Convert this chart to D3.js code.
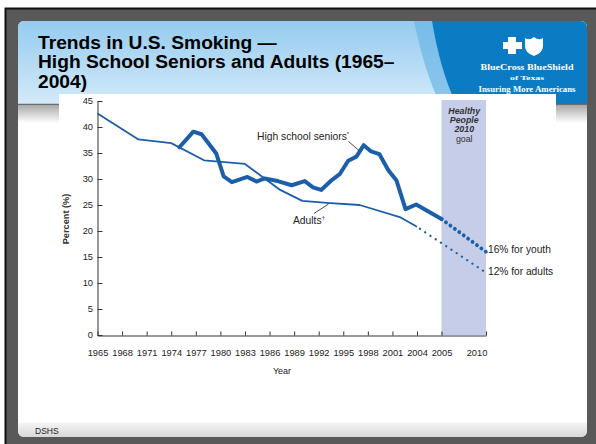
<!DOCTYPE html>
<html><head><meta charset="utf-8">
<script src="https://cdn.jsdelivr.net/npm/d3@7"></script>
<style>html,body{margin:0;padding:0;background:#fff;} svg{display:block;font-family:"Liberation Sans",Arial,sans-serif;}</style>
</head><body><svg id="c" width="596" height="444"></svg>
<script>
// ---- data ----
const titleLines = ["Trends in U.S. Smoking \u2014", "High School Seniors and Adults (1965\u2013", "2004)"];
const xTickYears = [1965,1968,1971,1974,1977,1980,1983,1986,1989,1992,1995,1998,2001,2004,2005,2010];
const yTickValues = [0,5,10,15,20,25,30,35,40,45];
const adultYears  = [1965, 1970, 1974, 1978, 1983, 1987.3, 1990, 1993, 1997, 2002, 2004];
const adultValues = [42.6, 37.6, 36.9, 33.6, 32.9, 27.9, 25.8, 25.4, 25.0, 22.6, 20.8];
const seniorYears  = [1975, 1976.7, 1977.7, 1979.5, 1980.4, 1981.4, 1983.3, 1984.4, 1985.4, 1987, 1988.7, 1990.3, 1991.3, 1992.3, 1993.6, 1994.6, 1995.6, 1996.6, 1997.5, 1998.4, 1999.4, 2000.5, 2001.5, 2002.6, 2003.9, 2005];
const seniorValues = [36.1, 39.1, 38.6, 34.9, 30.5, 29.4, 30.4, 29.5, 30.1, 29.6, 28.8, 29.6, 28.4, 27.9, 29.8, 31.0, 33.5, 34.3, 36.5, 35.3, 34.8, 31.7, 29.7, 24.2, 25.1, 22.3];
const youthGoalYears = [2005, 2010];
const youthGoalValues = [22.3, 16];
const adultGoalYears = [2004, 2010];
const adultGoalValues = [20.8, 12];
const goalLabels = ["16% for youth", "12% for adults"];
const bandLabels = ["Healthy", "People", "2010", "goal"];
const logoLines = ["BlueCross BlueShield", "of Texas", "Insuring More Americans"];

const svg = d3.select("#c");
const defs = svg.append("defs");
const blue = "#1b5fab";

// frame
svg.append("rect").attr("x",0).attr("y",0).attr("width",596).attr("height",444).attr("fill","#fff");
svg.append("rect").attr("x",5).attr("y",8).attr("width",591).attr("height",436).attr("fill","#595959");
svg.append("path").attr("d","M5.5,444 L5.5,8.5 L596,8.5").attr("fill","none").attr("stroke","#111").attr("stroke-width",2);

defs.append("clipPath").attr("id","slide").append("rect")
  .attr("x",18).attr("y",21).attr("width",569).attr("height",416).attr("rx",6);
const hg = defs.append("linearGradient").attr("id","hdr").attr("x1",0).attr("y1",0).attr("x2",0).attr("y2",1);
hg.append("stop").attr("offset","0%").attr("stop-color","#95cbef");
hg.append("stop").attr("offset","100%").attr("stop-color","#d3eafa");
const sg = defs.append("linearGradient").attr("id","shade").attr("x1",0).attr("y1",0).attr("x2",0).attr("y2",1);
sg.append("stop").attr("offset","0%").attr("stop-color","#a9a9a9");
sg.append("stop").attr("offset","100%").attr("stop-color","#ffffff");
const fg = defs.append("linearGradient").attr("id","foot").attr("x1",0).attr("y1",0).attr("x2",0).attr("y2",1);
fg.append("stop").attr("offset","0%").attr("stop-color","#f6f6f6");
fg.append("stop").attr("offset","100%").attr("stop-color","#d6d6d6");

const slide = svg.append("g").attr("clip-path","url(#slide)");
slide.append("rect").attr("x",18).attr("y",21).attr("width",569).attr("height",416).attr("fill","#fff");
slide.append("rect").attr("x",18).attr("y",21).attr("width",569).attr("height",83).attr("fill","url(#hdr)");
slide.append("path").attr("d","M414,21 Q424,70 440,104 L456,104 Q440,70 432,21 Z").attr("fill","#6cb6e5").attr("opacity",0.7);
slide.append("path").attr("d","M432,21 Q440,70 456,104 L590,104 L590,21 Z").attr("fill","#0b7bc3");
slide.append("line").attr("x1",18).attr("x2",590).attr("y1",104.5).attr("y2",104.5).attr("stroke","#6b6b6b").attr("stroke-width",1.5);
slide.append("rect").attr("x",18).attr("y",105).attr("width",569).attr("height",18).attr("fill","url(#shade)");
slide.append("rect").attr("x",18).attr("y",422).attr("width",569).attr("height",16).attr("fill","url(#foot)");
slide.append("line").attr("x1",18).attr("x2",590).attr("y1",422.5).attr("y2",422.5).attr("stroke","#fbfbfb");

// title
const title = slide.append("text").attr("x",38).attr("y",48.5).attr("font-size",19.2).attr("font-weight","bold").attr("fill","#000");
titleLines.forEach((t,i)=>title.append("tspan").attr("x",38).attr("dy", i===0?0:19.5).text(t));

// logo
const logo = slide.append("g").attr("fill","#fff");
logo.append("path").attr("d","M508,37 h8 v5 h6 v7 h-6 v5 h-8 v-5 h-5 v-7 h5 Z");
logo.append("path").attr("d","M525,38 q4,3 9,-1 q5,4 9,1 v8 q0,7 -9,10 q-9,-3 -9,-10 Z");
logoLines.forEach((t,i)=>{
  logo.append("text").attr("x",527).attr("y",[70,80,92][i]).attr("text-anchor","middle")
    .attr("font-family","'Liberation Serif',serif").attr("font-weight","bold").attr("font-size",[8,7,8][i])
    .attr("textLength",[93,34,97][i]).attr("lengthAdjust","spacingAndGlyphs").text(t);
});

// DSHS
slide.append("text").attr("x",35).attr("y",434).attr("font-size",8.5).attr("fill","#222").text("DSHS");

// chart white box
svg.append("rect").attr("x",59).attr("y",94).attr("width",497).attr("height",320).attr("fill","#fff");

// scales
const x = d3.scaleLinear().domain([1965,2004,2005,2010]).range([97.5,417,441.5,486]);
const y = d3.scaleLinear().domain([0,45]).range([335,101]);

// goal band
svg.append("rect").attr("x",x(2005)).attr("y",y(45)-1).attr("width",x(2010)-x(2005)).attr("height",y(0)-y(45)+1).attr("fill","#c5cde8");
const bl = svg.append("g").attr("font-size",8.8).attr("fill","#333").attr("text-anchor","middle");
bandLabels.forEach((t,i)=>{
  bl.append("text").attr("x",(x(2005)+x(2010))/2 + 0.5).attr("y",114+i*9.2)
    .attr("font-weight", i<3?"bold":"normal").attr("font-style", i<3?"italic":"normal").text(t);
});

// axes
const xAxis = d3.axisBottom(x).tickValues(xTickYears).tickFormat(d3.format("d")).tickSizeInner(-4).tickSizeOuter(0).tickPadding(14);
const gx = svg.append("g").attr("transform","translate(0,335.5)").call(xAxis);
gx.selectAll("text").attr("font-size",9.3).attr("fill","#222").attr("font-family","'Liberation Sans',Arial,sans-serif")
  .attr("dx", d => d===2010 ? -9.5 : 0);
gx.selectAll("line,path").attr("stroke","#333");
const yAxis = d3.axisLeft(y).tickValues(yTickValues).tickSizeInner(-5).tickSizeOuter(0).tickPadding(4.5);
const gy = svg.append("g").attr("transform","translate(97.5,0)").call(yAxis);
gy.selectAll("text").attr("font-size",9.3).attr("fill","#222").attr("font-family","'Liberation Sans',Arial,sans-serif");
gy.selectAll("line,path").attr("stroke","#333");

svg.append("text").attr("x",282).attr("y",373.5).attr("text-anchor","middle").attr("font-size",9).attr("fill","#222").text("Year");
svg.append("text").attr("transform","translate(68.5,219) rotate(-90)").attr("text-anchor","middle").attr("font-size",9.2).attr("font-weight","bold").attr("fill","#333").text("Percent (%)");

// lines
const line = d3.line().x(d=>x(d[0])).y(d=>y(d[1])).curve(d3.curveLinear);
svg.append("path").datum(adultYears.map((d,i)=>[d,adultValues[i]])).attr("d",line)
  .attr("fill","none").attr("stroke",blue).attr("stroke-width",1.8).attr("stroke-linejoin","round");
svg.append("path").datum(seniorYears.map((d,i)=>[d,seniorValues[i]])).attr("d",line)
  .attr("fill","none").attr("stroke",blue).attr("stroke-width",4).attr("stroke-linejoin","round").attr("stroke-linecap","round");
svg.append("path").datum(adultGoalYears.map((d,i)=>[d,adultGoalValues[i]])).attr("d",line)
  .attr("fill","none").attr("stroke",blue).attr("stroke-width",2.2).attr("stroke-linecap","round")
  .attr("stroke-dasharray","0.1 6.2").attr("stroke-dashoffset",-3.5);
svg.append("path").datum(youthGoalYears.map((d,i)=>[d,youthGoalValues[i]])).attr("d",line)
  .attr("fill","none").attr("stroke",blue).attr("stroke-width",3.8).attr("stroke-linecap","round")
  .attr("stroke-dasharray","0.1 5.4");

// goal labels
svg.append("text").attr("x",x(2010)+2).attr("y",y(youthGoalValues[1])+1).attr("font-size",10.2).attr("fill","#222").text(goalLabels[0]);
svg.append("text").attr("x",x(2010)+2).attr("y",y(adultGoalValues[1])+2.8).attr("font-size",10.2).attr("fill","#222").text(goalLabels[1]);

// annotations
const a1 = svg.append("text").attr("x",257).attr("y",139.5).attr("font-size",10.3).attr("fill","#222").text("High school seniors");
a1.append("tspan").attr("font-size",6).attr("dy",-3.5).text("*");
svg.append("line").attr("x1",348.5).attr("y1",141.5).attr("x2",359).attr("y2",150.5).attr("stroke","#333").attr("stroke-width",0.9);
const a2 = svg.append("text").attr("x",293).attr("y",223.5).attr("font-size",10.3).attr("fill","#222").text("Adults");
a2.append("tspan").attr("font-size",6).attr("dy",-3.5).text("\u2020");
svg.append("line").attr("x1",314).attr("y1",213.5).attr("x2",328.5).attr("y2",204).attr("stroke","#333").attr("stroke-width",0.9);
</script></body></html>
